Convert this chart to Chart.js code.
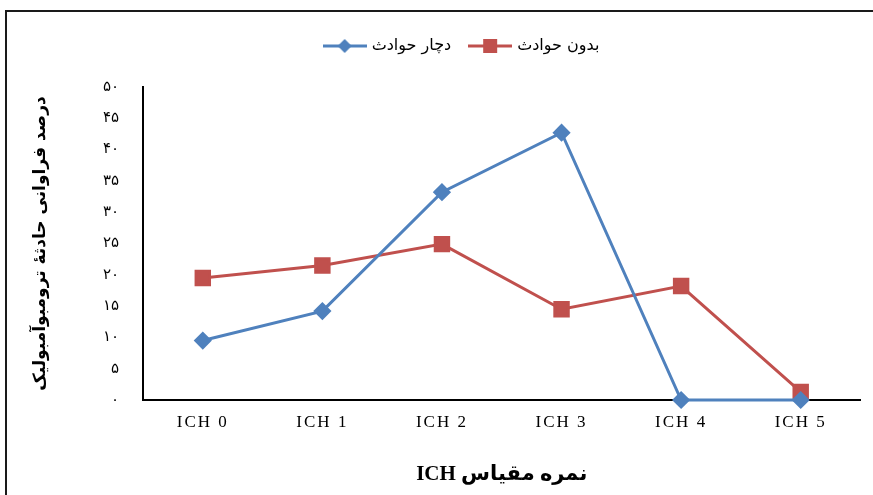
<!DOCTYPE html>
<html>
<head>
<meta charset="utf-8">
<script src="https://cdn.jsdelivr.net/npm/chart.js@4.4.0/dist/chart.umd.min.js"></script>
<style>
  html, body { margin: 0; padding: 0; background: #fff; overflow: hidden; }
  canvas { position: absolute; left: 0; top: 0; }
</style>
</head>
<body>
<canvas id="chart" width="873" height="495"></canvas>
<script>
// data
var categories = ['ICH 0', 'ICH 1', 'ICH 2', 'ICH 3', 'ICH 4', 'ICH 5'];
var withEvents = [9.5, 14.2, 33.2, 42.7, 0, 0];
var withoutEvents = [19.5, 21.5, 24.9, 14.5, 18.2, 1.3];
var seriesNames = ['دچار حوادث', 'بدون حوادث'];
var yMin = 0, yMax = 50, yStep = 5;

var yTitle = 'درصد فراوانی حادثهٔ ترومبوآمبولیک';
var xTitle = '\u202Bنمره مقیاس ICH\u202C';

var blue = '#4F81BD';
var red = '#C0504D';

var persianDigits = '۰۱۲۳۴۵۶۷۸۹';
function toPersian(n) {
  return String(n).replace(/[0-9]/g, function(d) { return persianDigits[+d]; });
}

// little line+marker glyphs for the legend
function legendMark(color, shape) {
  var c = document.createElement('canvas');
  c.width = 44; c.height = 16;
  var g = c.getContext('2d');
  g.strokeStyle = color;
  g.lineWidth = 3;
  g.beginPath(); g.moveTo(0, 8); g.lineTo(44, 8); g.stroke();
  g.fillStyle = color;
  if (shape === 'diamond') {
    g.beginPath(); g.moveTo(22, 1); g.lineTo(29, 8); g.lineTo(22, 15); g.lineTo(15, 8); g.closePath(); g.fill();
  } else {
    g.fillRect(15, 1, 14, 14);
  }
  return c;
}
var marks = [legendMark(blue, 'diamond'), legendMark(red, 'square')];

var tweaks = {
  id: 'tweaks',
  beforeDraw: function(chart) {
    // outer frame: only the top and left edges show in the picture
    var ctx = chart.ctx;
    ctx.save();
    ctx.fillStyle = '#1a1a1a';
    ctx.fillRect(5, 10, 868, 2);
    ctx.fillRect(5, 10, 2, 485);
    ctx.restore();
  },
  beforeLayout: function(chart) {
    // extra room under the legend
    var lg = chart.legend;
    if (lg && !lg._taller) {
      var fit = lg.fit.bind(lg);
      lg.fit = function() { fit(); this.height += 23; };
      lg._taller = true;
    }
  },
  afterLayout: function(chart) {
    var lg = chart.legend;
    if (lg) { lg.left += 19; lg.right += 19; }
    var sc = chart.scales.x;
    if (!sc._spaced) {
      var orig = sc.drawLabels.bind(sc);
      sc.drawLabels = function(area) {
        chart.ctx.save();
        chart.ctx.letterSpacing = '2px';
        orig(area);
        chart.ctx.restore();
      };
      sc._spaced = true;
    }
  }
};

new Chart(document.getElementById('chart'), {
  type: 'line',
  data: {
    labels: categories,
    datasets: [
      {
        label: seriesNames[0],
        data: withEvents,
        borderColor: blue,
        backgroundColor: blue,
        borderWidth: 3,
        pointStyle: 'rectRot',
        pointRadius: 7,
        pointHoverRadius: 7,
        tension: 0,
        clip: false
      },
      {
        label: seriesNames[1],
        data: withoutEvents,
        borderColor: red,
        backgroundColor: red,
        borderWidth: 3,
        pointStyle: 'rect',
        pointRadius: 9.5,
        pointHoverRadius: 9.5,
        tension: 0,
        clip: false
      }
    ]
  },
  options: {
    responsive: false,
    animation: false,
    devicePixelRatio: 1,
    layout: { padding: { left: 20, right: 6, top: 18, bottom: 0 } },
    plugins: {
      tooltip: { enabled: false },
      legend: {
        position: 'top',
        labels: {
          usePointStyle: true,
          pointStyleWidth: 38,
          padding: 20,
          color: '#000',
          font: { family: 'DejaVu Sans', size: 16 },
          generateLabels: function(chart) {
            return chart.data.datasets.map(function(ds, i) {
              return {
                text: ds.label,
                pointStyle: marks[i],
                fillStyle: ds.borderColor,
                strokeStyle: ds.borderColor,
                lineWidth: 0,
                hidden: false,
                datasetIndex: i
              };
            });
          }
        }
      }
    },
    scales: {
      x: {
        offset: true,
        grid: { display: false, drawTicks: false },
        border: { display: true, color: '#000', width: 2 },
        ticks: {
          color: '#000',
          padding: 12,
          font: { family: 'Liberation Serif', size: 17 },
          maxRotation: 0
        },
        title: {
          display: true,
          text: xTitle,
          color: '#000',
          font: { family: "'Liberation Serif', 'DejaVu Sans'", size: 21, weight: 'bold' },
          padding: { top: 0, bottom: 8 }
        },
        afterFit: function(scale) { scale.height = 95; }
      },
      y: {
        min: yMin,
        max: yMax,
        grid: { display: false, drawTicks: false },
        border: { display: true, color: '#000', width: 2 },
        ticks: {
          stepSize: yStep,
          color: '#000',
          padding: 24,
          font: { family: 'DejaVu Sans', size: 15 },
          callback: function(v) { return toPersian(v); }
        },
        title: {
          display: true,
          text: yTitle,
          color: '#000',
          font: { family: 'DejaVu Sans', size: 17, weight: 'bold' },
          padding: { top: 10, bottom: 0 }
        },
        afterFit: function(scale) { scale.width = 123; }
      }
    }
  },
  plugins: [tweaks]
});
</script>
</body>
</html>
